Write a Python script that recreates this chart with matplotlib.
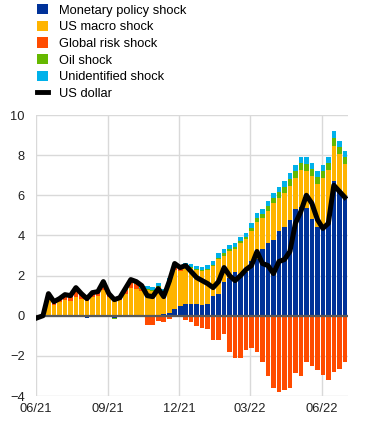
import numpy as np
import pandas as pd
import matplotlib
matplotlib.use("Agg")
import matplotlib.pyplot as plt
import matplotlib.dates as mdates
from matplotlib.patches import Patch
from matplotlib.lines import Line2D

plt.rcParams['font.family'] = ['Liberation Sans', 'DejaVu Sans']

# Weekly periods (Monday of each week)
week_start = pd.date_range("2021-05-31", periods=57, freq="7D")

monetary = [-0.05, -0.05, 0, 0, 0, -0.05, -0.05, 0, -0.05, -0.1, -0.05, 0, 0, -0.05, -0.12, -0.05, 0,
            0.05, 0.05, 0.05, 0.05, 0.05, 0.05, 0.1, 0.15, 0.35, 0.5,
            0.6, 0.6, 0.6, 0.55, 0.6, 1.0, 1.1, 1.7, 1.9, 2.2, 2.1, 2.2, 2.75, 2.85, 3.3, 3.6, 3.75,
            4.2, 4.4, 4.75, 5.3, 5.4, 5.35, 4.8, 4.4, 4.3, 4.7, 6.7, 6.2, 5.8]
us_macro = [0, 0.05, 0.9, 0.55, 0.7, 0.8, 0.75, 0.95, 0.85, 0.75, 0.95, 1.0, 1.3, 0.95, 0.8, 0.8, 1.1,
            1.35, 1.3, 1.2, 1.25, 1.2, 1.4, 1.05, 1.55, 1.95, 1.75,
            1.92, 1.8, 1.7, 1.7, 1.7, 1.5, 1.75, 1.3, 1.3, 1.1, 1.5, 1.6, 1.45, 1.8, 1.55, 1.6, 1.85,
            1.65, 1.7, 1.7, 1.55, 1.85, 1.85, 2.15, 2.15, 2.55, 2.55, 1.75, 1.85, 1.75]
global_risk = [-0.05, 0, 0.15, 0.1, 0.12, 0.25, 0.25, 0.4, 0.2, 0.15, 0.15, 0.15, 0.3, 0.15, 0.1, 0.1, 0.2,
               0.3, 0.25, 0.1, -0.45, -0.45, -0.25, -0.3, -0.15, 0.1, 0.1,
               -0.2, -0.3, -0.5, -0.6, -0.65, -1.2, -1.2, -0.9, -1.8, -2.1, -2.1, -1.7, -1.6, -1.8, -2.3,
               -3.0, -3.6, -3.8, -3.7, -3.6, -2.85, -3.0, -2.3, -2.5, -2.7, -2.95, -3.2, -2.8, -2.65, -2.3]
oil = [0, 0, 0.02, 0.02, 0.02, 0.02, 0.02, 0.02, 0.02, 0.02, 0.05, 0.02, 0.02, 0.02, -0.05, 0.02, 0.02,
       0.02, 0.02, 0.02, 0.02, 0.05, 0.02, 0.02, 0.02, 0.02, 0.02,
       0.03, 0.05, 0.05, 0.05, 0.05, 0.05, 0.05, 0.1, 0.1, 0.1, 0.1, 0.1, 0.15, 0.2, 0.2, 0.25,
       0.25, 0.3, 0.3, 0.35, 0.35, 0.35, 0.35, 0.35, 0.35, 0.35, 0.35, 0.4, 0.35, 0.35]
unidentified = [0, 0, 0.03, 0.03, 0.05, 0.05, 0.05, 0.05, 0.05, 0.05, 0.05, 0.05, 0.1, 0.05, 0.05, 0.05, 0.05,
                0.1, 0.1, 0.1, 0.15, 0.15, 0.15, 0.15, 0.15, 0.1, 0.1,
                0.1, 0.15, 0.15, 0.15, 0.2, 0.2, 0.2, 0.2, 0.2, 0.2, 0.2, 0.2, 0.25, 0.25, 0.25, 0.25,
                0.25, 0.25, 0.3, 0.3, 0.3, 0.3, 0.35, 0.3, 0.3, 0.3, 0.3, 0.35, 0.3, 0.3]
us_dollar = [-0.1, 0.0, 1.1, 0.7, 0.85, 1.05, 1.0, 1.4, 1.1, 0.85, 1.15, 1.2, 1.7, 1.1, 0.8, 0.9, 1.35,
             1.8, 1.7, 1.5, 1.0, 0.95, 1.35, 0.95, 1.7, 2.6, 2.4,
             2.5, 2.2, 1.9, 1.75, 1.6, 1.4, 1.7, 2.4, 2.0, 1.75, 2.0, 2.3, 2.5, 3.2, 2.6, 2.5, 2.1,
             2.7, 2.8, 3.2, 4.6, 5.2, 6.0, 5.6, 4.8, 4.35, 4.6, 6.5, 6.2, 5.9]

series_names = ["Monetary policy shock", "US macro shock", "Global risk shock", "Oil shock", "Unidentified shock"]
series = [monetary, us_macro, global_risk, oil, unidentified]
colors = ["#003299", "#FFB400", "#FF4B00", "#65B800", "#00B1EA"]

W, H = 372, 423
fig = plt.figure(figsize=(W / 100, H / 100), dpi=100)
ax = fig.add_axes([36 / W, 1 - 396 / H, (348 - 36) / W, (396 - 115) / H])

x = mdates.date2num(week_start)
pos_bottom = np.zeros(len(x))
neg_bottom = np.zeros(len(x))
for vals, c in zip(series, colors):
    v = np.array(vals, dtype=float)
    p = np.where(v > 0, v, 0)
    n = np.where(v < 0, v, 0)
    ax.bar(x, p, width=5.9, bottom=pos_bottom, align='edge', color=c, linewidth=0, zorder=2)
    ax.bar(x, n, width=5.9, bottom=neg_bottom, align='edge', color=c, linewidth=0, zorder=2)
    pos_bottom += p
    neg_bottom += n

ax.axhline(0, color="#595959", lw=1.6, zorder=3)
ax.plot(x + 2.9, us_dollar, color="black", lw=3.6, zorder=4, solid_joinstyle='round')

ax.set_ylim(-4, 10)
ax.set_yticks(np.arange(-4, 11, 2))
ax.set_xlim(mdates.date2num(pd.Timestamp("2021-06-01")), mdates.date2num(pd.Timestamp("2022-07-04")))
xt = pd.to_datetime(["2021-06-01", "2021-09-01", "2021-12-01", "2022-03-01", "2022-06-01"])
ax.set_xticks(mdates.date2num(xt))
ax.set_xticklabels(["06/21", "09/21", "12/21", "03/22", "06/22"])
ax.grid(True, color="#d9d9d9", lw=1.0, zorder=0)
ax.set_axisbelow(True)
for s in ax.spines.values():
    s.set_visible(False)
ax.tick_params(length=0, labelsize=9.3, colors="#222222", pad=5)
ax.tick_params(axis='y', pad=8)

handles = [Patch(facecolor=c, edgecolor='none') for c in colors]
handles.append(Line2D([0], [0], color='black', lw=3.5))
labels = series_names + ["US dollar"]
fig.legend(handles, labels, loc='upper left', bbox_to_anchor=(37 / W, 1 - 4 / H),
           frameon=False, fontsize=9.3, handlelength=0.85, handleheight=0.85,
           handletextpad=0.85, labelspacing=0.31, borderpad=0, borderaxespad=0)

fig.savefig("out.png", dpi=100)
